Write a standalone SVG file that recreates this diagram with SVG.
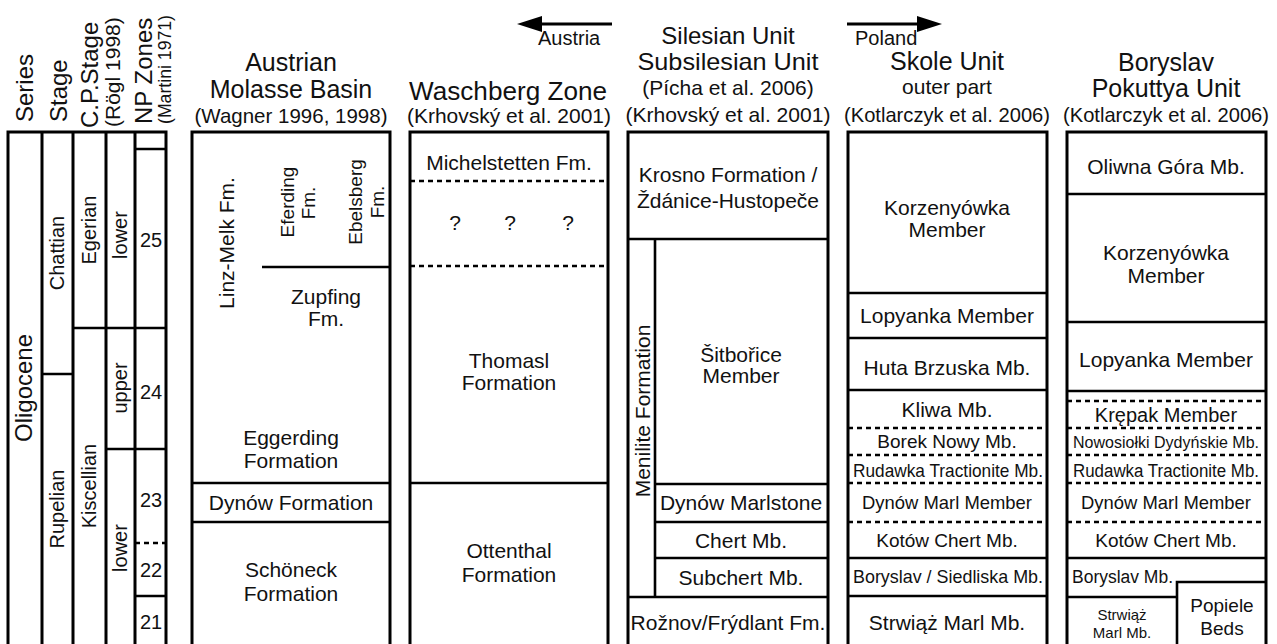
<svg xmlns="http://www.w3.org/2000/svg" width="1277" height="644" viewBox="0 0 1277 644">
<style>
text{font-family:"Liberation Sans",Arial,sans-serif;fill:#111;text-anchor:middle}
.ti{font-size:25px}
.ti2{font-size:24px}
.su{font-size:21px}
.c{font-size:21px}
.m{font-size:19px}
.sm{font-size:15px}
.hd{font-size:24px;text-anchor:start}
.ls{font-size:20px}
.ln{fill:none;stroke:#000;stroke-width:3}
.il{fill:none;stroke:#000;stroke-width:2.6}
.ds{fill:none;stroke:#000;stroke-width:2.6;stroke-dasharray:5 4}
.ar{font-size:20px;text-anchor:start}
</style>
<defs>
<marker id="ah" markerUnits="userSpaceOnUse" markerWidth="25" markerHeight="16" refX="5" refY="8" orient="auto">
<path d="M0,0 L25,8 L0,16 Z" fill="#000"/>
</marker>
</defs>

<g id="time-scale">
<text class="hd" transform="translate(33,122) rotate(-90)">Series</text>
<text class="hd" transform="translate(67,122) rotate(-90)">Stage</text>
<text class="hd" transform="translate(98,128) rotate(-90)">C.P.Stage</text>
<text style="font-size:21px;text-anchor:start" transform="translate(120,127) rotate(-90)">(Rögl 1998)</text>
<text class="hd" transform="translate(152,124) rotate(-90)">NP Zones</text>
<text style="font-size:18px;text-anchor:start" transform="translate(171,124) rotate(-90)" textLength="109" lengthAdjust="spacingAndGlyphs">(Martini 1971)</text>
<path class="ln" d="M8,660V132H166V660 M42,132V660 M73,132V660 M106,132V660 M135,132V660"/>
<path class="il" d="M135,149H166 M73,328H166 M42,374H73 M106,449H166 M135,596H166"/>
<path class="ds" d="M135,543H166"/>
<text style="font-size:24px" transform="translate(32,388) rotate(-90)">Oligocene</text>
<text class="ls" transform="translate(64,253) rotate(-90)">Chattian</text>
<text class="ls" transform="translate(64,509) rotate(-90)">Rupelian</text>
<text class="ls" transform="translate(96,230) rotate(-90)">Egerian</text>
<text class="ls" transform="translate(96,486) rotate(-90)">Kiscellian</text>
<text class="ls" transform="translate(127,235) rotate(-90)">lower</text>
<text class="ls" transform="translate(127,388) rotate(-90)">upper</text>
<text class="ls" transform="translate(127,548) rotate(-90)">lower</text>
<text class="ls" x="151" y="247">25</text>
<text class="ls" x="151" y="399">24</text>
<text class="ls" x="151" y="507">23</text>
<text class="ls" x="151" y="577">22</text>
<text class="ls" x="151" y="629">21</text>
</g>

<g id="austrian-molasse">
<text class="ti" x="291" y="71">Austrian</text>
<text class="ti" x="291" y="98">Molasse Basin</text>
<text class="su" x="291" y="123" textLength="193" lengthAdjust="spacingAndGlyphs">(Wagner 1996, 1998)</text>
<path class="ln" d="M192,660V132H390V660"/>
<path class="il" d="M262,267H390 M192,483H390 M192,522H390"/>
<text class="c" transform="translate(234,243) rotate(-90)">Linz-Melk Fm.</text>
<text class="m" transform="translate(294,202) rotate(-90)">Eferding</text>
<text class="m" transform="translate(315,203) rotate(-90)">Fm.</text>
<text class="m" transform="translate(362,202) rotate(-90)">Ebelsberg</text>
<text class="m" transform="translate(384,202) rotate(-90)">Fm.</text>
<text class="c" x="326" y="304">Zupfing</text>
<text class="c" x="326" y="326">Fm.</text>
<text class="c" x="291" y="445">Eggerding</text>
<text class="c" x="291" y="468">Formation</text>
<text class="c" x="291" y="510">Dynów Formation</text>
<text class="c" x="291" y="577">Schöneck</text>
<text class="c" x="291" y="601">Formation</text>
</g>

<g id="waschberg-zone">
<text class="ti" x="508" y="100" textLength="198" lengthAdjust="spacingAndGlyphs">Waschberg Zone</text>
<text class="su" x="509" y="123" textLength="204" lengthAdjust="spacingAndGlyphs">(Krhovský et al. 2001)</text>
<path class="ln" d="M410,660V132H608V660"/>
<path class="ds" d="M410,181H608 M410,266H608"/>
<path class="il" d="M410,483H608"/>
<text class="c" x="509" y="170">Michelstetten Fm.</text>
<text class="c" x="455" y="230">?</text>
<text class="c" x="510" y="230">?</text>
<text class="c" x="568" y="230">?</text>
<text class="c" x="509" y="368">Thomasl</text>
<text class="c" x="509" y="390">Formation</text>
<text class="c" x="509" y="558">Ottenthal</text>
<text class="c" x="509" y="582">Formation</text>
</g>

<g id="silesian-unit">
<text class="ti2" x="728" y="44">Silesian Unit</text>
<text class="ti2" x="728" y="70" textLength="181" lengthAdjust="spacingAndGlyphs">Subsilesian Unit</text>
<text class="su" x="728" y="95">(Pícha et al. 2006)</text>
<text class="su" x="728" y="122" textLength="205" lengthAdjust="spacingAndGlyphs">(Krhovský et al. 2001)</text>
<path class="ln" d="M628,660V132H828V660"/>
<path class="il" d="M628,239H828 M655,239V597 M655,484H828 M655,522H828 M655,558H828 M628,597H828"/>
<text class="c" x="728" y="182">Krosno Formation /</text>
<text class="c" x="728" y="208">Ždánice-Hustopeče</text>
<text class="c" transform="translate(650,411) rotate(-90)">Menilite Formation</text>
<text class="c" x="741" y="362">Šitbořice</text>
<text class="c" x="741" y="383">Member</text>
<text class="c" x="741" y="510">Dynów Marlstone</text>
<text class="c" x="741" y="548">Chert Mb.</text>
<text class="c" x="741" y="585">Subchert Mb.</text>
<text class="c" x="728" y="630">Rožnov/Frýdlant Fm.</text>
</g>

<g id="skole-unit">
<text class="ar" x="855" y="45">Poland</text>
<text class="ti" x="947" y="70">Skole Unit</text>
<text class="su" x="947" y="94">outer part</text>
<text class="su" x="947" y="122" textLength="206" lengthAdjust="spacingAndGlyphs">(Kotlarczyk et al. 2006)</text>
<path class="ln" d="M848,660V132H1047V660"/>
<path class="il" d="M848,293H1047 M848,338H1047 M848,390H1047 M848,558H1047 M848,596H1047"/>
<path class="ds" d="M848,428H1047 M848,455H1047 M848,483H1047 M848,522H1047"/>
<text class="c" x="947" y="215">Korzenyówka</text>
<text class="c" x="947" y="237">Member</text>
<text class="c" x="947" y="323">Lopyanka Member</text>
<text class="c" x="947" y="375">Huta Brzuska Mb.</text>
<text class="c" x="947" y="417">Kliwa Mb.</text>
<text class="m" x="947" y="448">Borek Nowy Mb.</text>
<text class="m" x="948" y="477" textLength="190" lengthAdjust="spacingAndGlyphs">Rudawka Tractionite Mb.</text>
<text class="m" x="947" y="509" textLength="170" lengthAdjust="spacingAndGlyphs">Dynów Marl Member</text>
<text class="m" x="947" y="547">Kotów Chert Mb.</text>
<text class="m" x="948" y="583" textLength="190" lengthAdjust="spacingAndGlyphs">Boryslav / Siedliska Mb.</text>
<text class="c" x="947" y="630">Strwiąż Marl Mb.</text>
</g>

<g id="boryslav-pokuttya-unit">
<text class="ti" x="1166" y="71">Boryslav</text>
<text class="ti" x="1166" y="97">Pokuttya Unit</text>
<text class="su" x="1166" y="122" textLength="206" lengthAdjust="spacingAndGlyphs">(Kotlarczyk et al. 2006)</text>
<path class="ln" d="M1067,660V132H1266V660"/>
<path class="il" d="M1067,194H1266 M1067,322H1266 M1067,391H1266 M1067,558H1266 M1067,597H1177 M1177,660V582H1266"/>
<path class="ds" d="M1067,401H1266 M1067,428H1266 M1067,455H1266 M1067,483H1266 M1067,522H1266"/>
<text class="c" x="1166" y="174">Oliwna Góra Mb.</text>
<text class="c" x="1166" y="260">Korzenyówka</text>
<text class="c" x="1166" y="283">Member</text>
<text class="c" x="1166" y="367">Lopyanka Member</text>
<text style="font-size:20px" x="1166" y="422">Krępak Member</text>
<text style="font-size:17px" x="1166" y="447.5" textLength="186" lengthAdjust="spacingAndGlyphs">Nowosiołki Dydyńskie Mb.</text>
<text style="font-size:18px" x="1166" y="477" textLength="186" lengthAdjust="spacingAndGlyphs">Rudawka Tractionite Mb.</text>
<text class="m" x="1166" y="509" textLength="170" lengthAdjust="spacingAndGlyphs">Dynów Marl Member</text>
<text class="m" x="1166" y="547">Kotów Chert Mb.</text>
<text style="font-size:18px;text-anchor:start" x="1072" y="583" textLength="101" lengthAdjust="spacingAndGlyphs">Boryslav Mb.</text>
<text class="sm" x="1122" y="620">Strwiąż</text>
<text class="sm" x="1122" y="638">Marl Mb.</text>
<text class="m" x="1222" y="612">Popiele</text>
<text class="m" x="1222" y="635">Beds</text>
</g>

<g id="connectors">
<line x1="612" y1="24" x2="537" y2="24" stroke="#000" stroke-width="3" marker-end="url(#ah)"/>
<text class="ar" x="538" y="45">Austria</text>
<line x1="847" y1="24" x2="922" y2="24" stroke="#000" stroke-width="3" marker-end="url(#ah)"/>
</g>
</svg>
